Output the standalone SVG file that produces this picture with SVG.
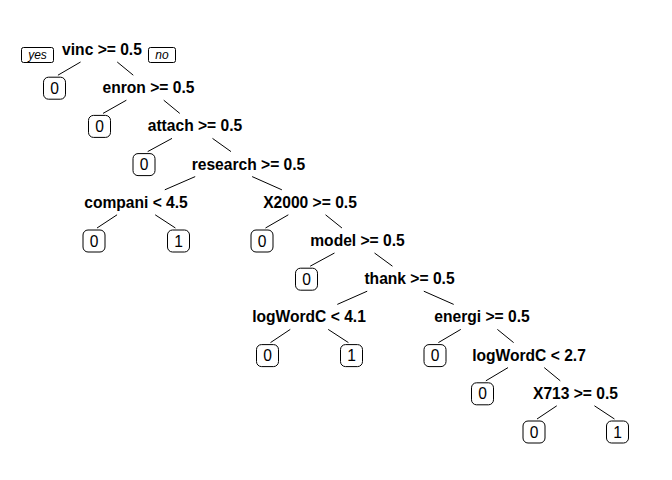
<svg xmlns="http://www.w3.org/2000/svg" width="672" height="480" viewBox="0 0 672 480">
<style>
.split{font-family:"Liberation Sans",Arial,sans-serif;font-size:15.6px;font-weight:bold;fill:#000;text-anchor:middle}
.leaf rect{fill:#fff;stroke:#000;stroke-width:1}
.leaf text{font-family:"Liberation Sans",Arial,sans-serif;font-size:15.6px;fill:#000;text-anchor:middle}
.tag rect{fill:#fff;stroke:#000;stroke-width:1}
.tag text{font-family:"Liberation Sans",Arial,sans-serif;font-size:12px;font-style:italic;fill:#000;text-anchor:middle}
#connectors line{stroke:#000;stroke-width:1}
</style>
<rect width="672" height="480" fill="#fff"/>
<g id="connectors">
<line x1="80.57" y1="62" x2="57.93" y2="75.2"/>
<line x1="117.22" y1="62" x2="133.28" y2="75.2"/>
<line x1="126.39" y1="100.2" x2="103.04" y2="113.4"/>
<line x1="163.72" y1="100.2" x2="179.78" y2="113.4"/>
<line x1="171.99" y1="138.4" x2="147.68" y2="151.6"/>
<line x1="212.51" y1="138.4" x2="230.99" y2="151.6"/>
<line x1="195.2" y1="176.6" x2="164.8" y2="189.8"/>
<line x1="252.14" y1="176.6" x2="281.86" y2="189.8"/>
<line x1="117.05" y1="214.8" x2="97.03" y2="228"/>
<line x1="155.18" y1="214.8" x2="175.43" y2="228"/>
<line x1="288.34" y1="214.8" x2="265.47" y2="228"/>
<line x1="325.54" y1="214.8" x2="341.96" y2="228"/>
<line x1="334.49" y1="253" x2="310.18" y2="266.2"/>
<line x1="374.52" y1="253" x2="392.48" y2="266.2"/>
<line x1="367.19" y1="291.2" x2="337.31" y2="304.4"/>
<line x1="423.81" y1="291.2" x2="453.69" y2="304.4"/>
<line x1="290.27" y1="329.4" x2="270.5" y2="342.6"/>
<line x1="328.18" y1="329.4" x2="348.43" y2="342.6"/>
<line x1="460.79" y1="329.4" x2="438.39" y2="342.6"/>
<line x1="497.38" y1="329.4" x2="513.62" y2="342.6"/>
<line x1="508.02" y1="367.6" x2="485.86" y2="380.8"/>
<line x1="544.22" y1="367.6" x2="560.28" y2="380.8"/>
<line x1="556.77" y1="405.8" x2="537" y2="419"/>
<line x1="594.45" y1="405.8" x2="614.47" y2="419"/>
</g>
<g id="tag-yes" class="tag"><rect x="21.5" y="47.5" width="32" height="15" rx="2"/><text x="37.5" y="59">yes</text></g>
<g id="tag-no" class="tag"><rect x="148.5" y="47.5" width="27" height="15" rx="2"/><text x="162" y="59">no</text></g>
<g id="n1"><text class="split" x="102" y="55">vinc &gt;= 0.5</text></g>
<g id="n2" class="leaf"><rect x="43.5" y="77.2" width="22" height="22" rx="5"/><text x="54.5" y="93.7">0</text></g>
<g id="n3"><text class="split" x="148.5" y="93.2">enron &gt;= 0.5</text></g>
<g id="n6" class="leaf"><rect x="88.5" y="115.4" width="22" height="22" rx="5"/><text x="99.5" y="131.9">0</text></g>
<g id="n7"><text class="split" x="195" y="131.4">attach &gt;= 0.5</text></g>
<g id="n14" class="leaf"><rect x="133" y="153.6" width="22" height="22" rx="5"/><text x="144" y="170.1">0</text></g>
<g id="n15"><text class="split" x="248.5" y="169.6">research &gt;= 0.5</text></g>
<g id="n30"><text class="split" x="136" y="207.8">compani &lt; 4.5</text></g>
<g id="n60" class="leaf"><rect x="83" y="230" width="22" height="22" rx="5"/><text x="94" y="246.5">0</text></g>
<g id="n61" class="leaf"><rect x="167.5" y="230" width="22" height="22" rx="5"/><text x="178.5" y="246.5">1</text></g>
<g id="n31"><text class="split" x="310" y="207.8">X2000 &gt;= 0.5</text></g>
<g id="n62" class="leaf"><rect x="251" y="230" width="22" height="22" rx="5"/><text x="262" y="246.5">0</text></g>
<g id="n63"><text class="split" x="357.5" y="246">model &gt;= 0.5</text></g>
<g id="n126" class="leaf"><rect x="295.5" y="268.2" width="22" height="22" rx="5"/><text x="306.5" y="284.7">0</text></g>
<g id="n127"><text class="split" x="409.5" y="284.2">thank &gt;= 0.5</text></g>
<g id="n254"><text class="split" x="309" y="322.4">logWordC &lt; 4.1</text></g>
<g id="n508" class="leaf"><rect x="256.5" y="344.6" width="22" height="22" rx="5"/><text x="267.5" y="361.1">0</text></g>
<g id="n509" class="leaf"><rect x="340.5" y="344.6" width="22" height="22" rx="5"/><text x="351.5" y="361.1">1</text></g>
<g id="n255"><text class="split" x="482" y="322.4">energi &gt;= 0.5</text></g>
<g id="n510" class="leaf"><rect x="424" y="344.6" width="22" height="22" rx="5"/><text x="435" y="361.1">0</text></g>
<g id="n511"><text class="split" x="529" y="360.6">logWordC &lt; 2.7</text></g>
<g id="n1022" class="leaf"><rect x="471.5" y="382.8" width="22" height="22" rx="5"/><text x="482.5" y="399.3">0</text></g>
<g id="n1023"><text class="split" x="575.5" y="398.8">X713 &gt;= 0.5</text></g>
<g id="n2046" class="leaf"><rect x="523" y="421" width="22" height="22" rx="5"/><text x="534" y="437.5">0</text></g>
<g id="n2047" class="leaf"><rect x="606.5" y="421" width="22" height="22" rx="5"/><text x="617.5" y="437.5">1</text></g>
</svg>
